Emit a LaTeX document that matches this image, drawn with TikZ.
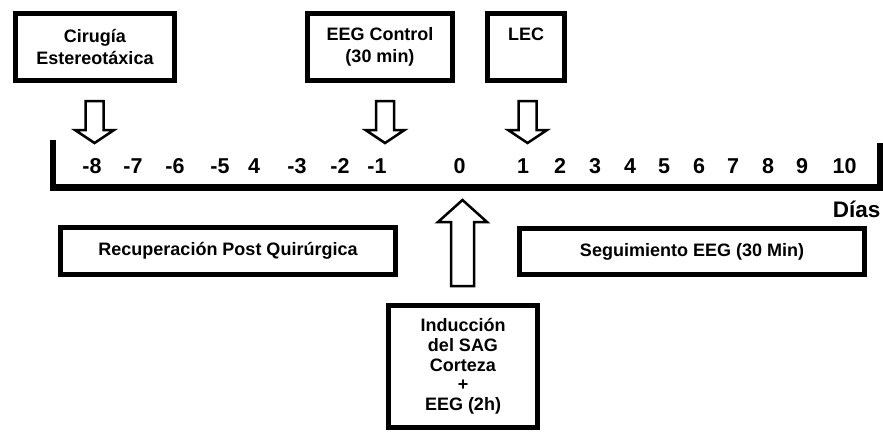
\documentclass[tikz,border=0pt]{standalone}
\usepackage{fontspec}
\setmainfont{Liberation Sans}
\usetikzlibrary{calc}
\newcommand\bxfont{\bfseries\fontsize{18}{22.5}\selectfont}
\newcommand\dayfont{\bfseries\fontsize{21.5}{25}\selectfont}
\begin{document}
\begin{tikzpicture}[x=1pt,y=-1pt,
  box/.style={draw, line width=5pt, align=center, inner sep=0pt, font=\bxfont},
  daynum/.style={anchor=base, inner sep=0pt, font=\dayfont},
  axisline/.style={line width=6.5pt, line join=miter},
  blockarrow/.style={draw, fill=white, line width=2.5pt, line join=miter},
  downarrow/.pic={\path[blockarrow] (-9,0) -- (9,0) -- (9,29) -- (19.5,29) -- (0,42)
      -- (-19.5,29) -- (-9,29) -- cycle;},
  uparrow/.pic={\path[blockarrow] (-11.5,86) -- (11.5,86) -- (11.5,22) -- (24.5,22) -- (0,0)
      -- (-24.5,22) -- (-11.5,22) -- cycle;}
]
\useasboundingbox (0,0) rectangle (883,431);

% event boxes above the time axis
\node[box, minimum width=159pt, minimum height=67pt] (cir) at (95,47)
  {Cirugía\\Estereotáxica};
\node[box, minimum width=145pt, minimum height=67pt] (eegc) at (380,47)
  {EEG Control\\(30 min)};
\node[box, minimum width=77pt, minimum height=67pt] (lec) at (526,47)
  {LEC\\\phantom{(30 min)}};

% arrows pointing down to the axis
\pic at (94.5,101) {downarrow};
\pic at (385,101) {downarrow};
\pic at (527.5,101) {downarrow};

% day numbers
\foreach \d/\x/\t in {m8/92/-8, m7/133/-7, m6/175/-6, m5/220/-5, m4/254/4, m3/297/-3,
    m2/340/-2, m1/377/-1, z/459.5/0, p1/523/1, p2/560/2, p3/595/3, p4/630/4,
    p5/664/5, p6/699/6, p7/733/7, p8/768/8, p9/802/9, p10/844.5/10}
  \node[daynum] (n\d) at (\x,173) {\t};

% time axis bracket
\coordinate (axTL) at (53,140);
\coordinate (axBL) at (53,187.5);
\coordinate (axBR) at (880,187.5);
\coordinate (axTR) at (880,143);
\draw[axisline] (axTL) -- (axBL) -- (axBR) -- (axTR);

\node[anchor=base east, inner sep=0pt, font=\bfseries\fontsize{22.5}{26}\selectfont] (dias) at (880.5,217) {Días};

% phase boxes below the axis
\node[box, minimum width=335pt, minimum height=47pt] (rec) at (228,251)
  {Recuperación Post Quirúrgica};
\node[box, minimum width=345pt, minimum height=46pt] (seg) at (692,251.5)
  {Seguimiento EEG (30 Min)};

% induction on day 0
\pic at (462.5,200) {uparrow};
\node[box, minimum width=149pt, minimum height=122pt,
      font=\bfseries\fontsize{18}{19.7}\selectfont] (ind) at (463,366.5)
  {Inducción\\del SAG\\Corteza\\+\\EEG (2h)};
\end{tikzpicture}
\end{document}
